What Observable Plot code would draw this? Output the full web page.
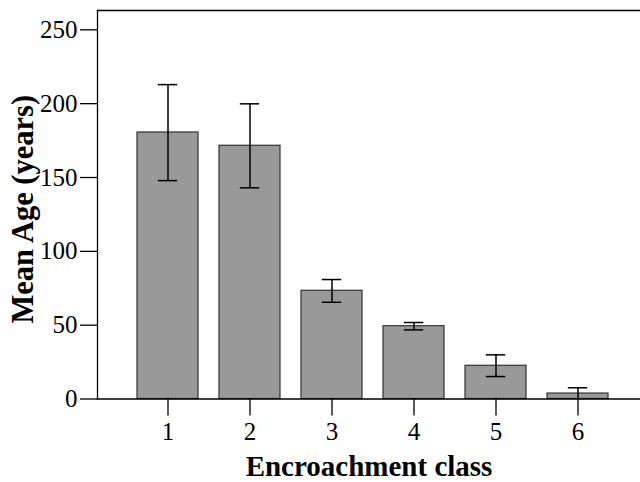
<!DOCTYPE html>
<html>
<head>
<meta charset="utf-8">
<script src="https://cdn.jsdelivr.net/npm/d3@7"></script>
<script src="https://cdn.jsdelivr.net/npm/@observablehq/plot@0.6"></script>
<style>
  html, body { margin: 0; padding: 0; background: white; overflow: hidden; }
</style>
</head>
<body>
<div id="chart"></div>
<script>
const classes = [1, 2, 3, 4, 5, 6];
const means = [180.5, 171.5, 73.3, 49.3, 22.5, 3.7];
const upper = [212.9, 199.9, 80.9, 51.8, 29.9, 7.6];
const lower = [147.9, 143.0, 65.5, 46.8, 15.2, -0.2];
const yTicks = [0, 50, 100, 150, 200, 250];
const xTitle = "Encroachment class";
const yTitle = "Mean Age (years)";

const data = classes.map((c, i) => ({cls: c, mean: means[i], hi: upper[i], lo: lower[i]}));

const W = 640, H = 482;
const chart = Plot.plot({
  width: W,
  height: H,
  marginLeft: 97,
  marginRight: 0,
  marginTop: 10,
  marginBottom: 83.5,
  style: {fontFamily: "'Liberation Serif', 'Times New Roman', serif", fontSize: "25px", color: "black", background: "white"},
  x: {type: "band", domain: classes, range: [97, 648], paddingInner: 0.254, paddingOuter: 0.455},
  y: {domain: [0, 263.1]},
  marks: [
    Plot.barY(data, {x: "cls", y: "mean", fill: "#999999", stroke: "#333333", strokeWidth: 1.2}),
    Plot.ruleX(data, {x: "cls", y1: "lo", y2: "hi", stroke: "black", strokeWidth: 1.5}),
    Plot.tickY(data, {x: "cls", y: "hi", stroke: "black", strokeWidth: 1.5, insetLeft: 20.8, insetRight: 20.8}),
    Plot.tickY(data, {x: "cls", y: "lo", stroke: "black", strokeWidth: 1.5, insetLeft: 20.8, insetRight: 20.8, filter: d => d.lo > 0}),
    Plot.frame({anchor: "top", stroke: "black", strokeWidth: 1.3}),
    Plot.frame({anchor: "left", stroke: "black", strokeWidth: 1.3}),
    Plot.frame({anchor: "bottom", stroke: "black", strokeWidth: 1.3}),
    Plot.axisY({ticks: yTicks, tickSize: 17, tickPadding: 3, label: null, stroke: "black", strokeWidth: 1.3, fontSize: 25}),
    Plot.axisX({tickSize: 17, tickPadding: 6.5, label: null, stroke: "black", strokeWidth: 1.3, fontSize: 25}),
    Plot.text([yTitle], {frameAnchor: "left", dx: -74, dy: 4.5, rotate: -90, fontSize: 30.5, fontWeight: "bold", fill: "black", textAnchor: "middle"}),
    Plot.text([xTitle], {frameAnchor: "bottom", dy: 77, fontSize: 29, fontWeight: "bold", fill: "black", textAnchor: "middle"})
  ]
});
document.getElementById("chart").appendChild(chart);
</script>
</body>
</html>
